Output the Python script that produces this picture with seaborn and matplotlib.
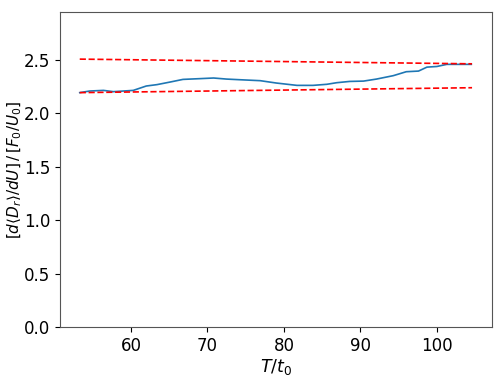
import numpy as np
import pandas as pd
import seaborn as sns
import matplotlib.pyplot as plt

# blue curve
t = [53.3, 54.6, 56.4, 57.7, 59.0, 60.3, 62.0, 63.4, 65.1, 66.8, 69.0, 70.8,
     72.5, 74.2, 76.9, 79.0, 81.7, 83.8, 85.6, 86.9, 88.6, 90.4, 92.1, 94.3,
     96.0, 97.6, 98.7, 100.0, 101.3, 104.5]
slope = [2.195, 2.21, 2.216, 2.204, 2.21, 2.216, 2.257, 2.27, 2.294, 2.319,
         2.326, 2.332, 2.322, 2.316, 2.307, 2.285, 2.263, 2.263, 2.273, 2.288,
         2.30, 2.303, 2.322, 2.354, 2.391, 2.397, 2.434, 2.44, 2.46, 2.46]

# dashed bounds
bound_t = [53.3, 104.6]
upper = [2.509, 2.465]
lower = [2.195, 2.241]

df = pd.DataFrame({"t": t, "slope": slope})

fig, ax = plt.subplots(figsize=(5.03, 3.77), dpi=100)
sns.lineplot(data=df, x="t", y="slope", color="tab:blue", linewidth=1.2, ax=ax)
ax.plot(bound_t, upper, "r--", linewidth=1.2)
ax.plot(bound_t, lower, "r--", linewidth=1.2)

ax.set_xlim(50.7, 107.2)
ax.set_ylim(0, 2.95)
ax.set_xlabel(r"$T/t_0$", fontsize=12.5, labelpad=2)
ax.set_ylabel(r"$[d\langle D_r\rangle/dU]\,/\,[F_0/U_0]$", fontsize=11)
ax.yaxis.set_label_coords(-0.082, 0.5)
ax.tick_params(labelsize=12)
for s in ax.spines.values():
    s.set_color("#555555")

plt.subplots_adjust(left=0.119, right=0.978, top=0.968, bottom=0.133)
plt.savefig("out.png")
